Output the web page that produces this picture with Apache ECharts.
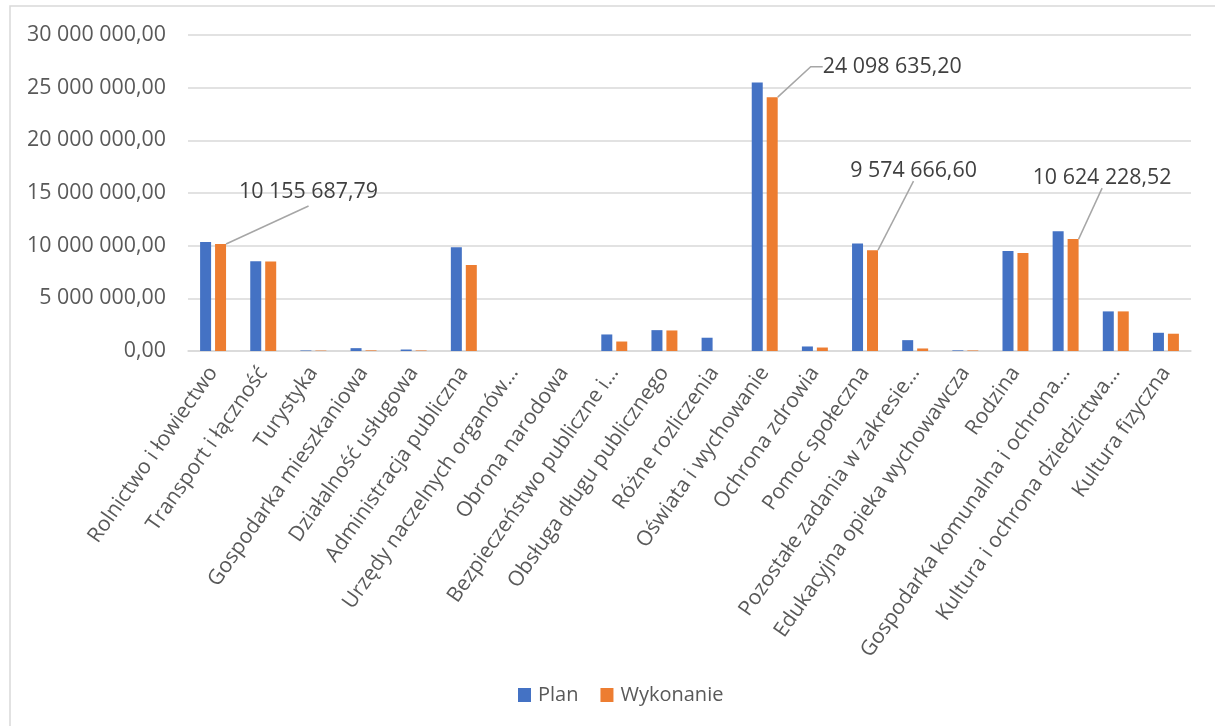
<!DOCTYPE html>
<html>
<head>
<meta charset="utf-8">
<script src="https://cdn.jsdelivr.net/npm/echarts@6/dist/echarts.min.js"></script>
<style>
	html, body { margin: 0; padding: 0; background: #fff; }
	#chart { width: 1215px; height: 726px; }
</style>
</head>
<body>
<div id="chart"></div>
<script type="text/javascript">
    // kategorie (działy)
    var categories = [
        'Rolnictwo i łowiectwo', 'Transport i łączność', 'Turystyka', 'Gospodarka mieszkaniowa',
        'Działalność usługowa', 'Administracja publiczna', 'Urzędy naczelnych organów…', 'Obrona narodowa',
        'Bezpieczeństwo publiczne i…', 'Obsługa długu publicznego', 'Różne rozliczenia', 'Oświata i wychowanie',
        'Ochrona zdrowia', 'Pomoc społeczna', 'Pozostałe zadania w zakresie…', 'Edukacyjna opieka wychowawcza',
        'Rodzina', 'Gospodarka komunalna i ochrona…', 'Kultura i ochrona dziedzictwa…', 'Kultura fizyczna'
    ];
    var plan = [
        10350000, 8520000, 50000, 270000, 140000, 9860000, 0, 0, 1570000, 1980000,
        1260000, 25500000, 430000, 10200000, 1030000, 60000, 9500000, 11380000, 3760000, 1730000
    ];
    var wykonanie = [
        10155687.79, 8500000, 40000, 60000, 50000, 8170000, 0, 0, 900000, 1950000,
        0, 24098635.20, 330000, 9574666.60, 240000, 50000, 9310000, 10624228.52, 3760000, 1640000
    ];
    // etykiety danych tylko dla wybranych słupków wykonania
    var labelled = [0, 11, 13, 17];
    var labelShift = { 0: [88, -33], 11: [120, -15], 13: [41, -64], 17: [29, -46] };

    var yTicks = { min: 0, max: 30000000, interval: 5000000 };

    function fmt(v) {
        var s = Number(v).toFixed(2).split('.');
        return s[0].replace(/\B(?=(\d{3})+(?!\d))/g, ' ') + ',' + s[1];
    }

    var font = '"Open Sans", "Noto Sans", sans-serif';
    var myChart = echarts.init(document.getElementById('chart'));

    function dataLabel(i) {
        var lab = {
            show: true, position: 'top', distance: 5,
            color: '#404040', fontSize: 21.4, fontFamily: font,
            formatter: function (p) { return fmt(p.value); }
        };
        // pierwsza etykieta: linia do środka dolnej krawędzi
        if (i === 0) {
            lab.padding = [110, 0, 4, 0];
            lab.backgroundColor = 'rgba(255,255,255,0)';
        }
        return lab;
    }

    var option = {
        animation: false,
        textStyle: { fontFamily: font },
        graphic: [{
            type: 'rect',
            shape: { x: 10, y: 6, width: 1230, height: 740 },
            style: { fill: 'none', stroke: '#d9d9d9', lineWidth: 1.5 },
            silent: true
        }],
        grid: { left: 188, right: 24, top: 35, bottom: 375 },
        legend: {
            data: ['Plan', 'Wykonanie'],
            left: 513, top: 680,
            itemWidth: 13, itemHeight: 14, itemGap: 22,
            icon: 'rect',
            textStyle: { color: '#595959', fontSize: 20, fontFamily: font, padding: [0, 0, 0, 2] }
        },
        xAxis: {
            type: 'category',
            data: categories,
            axisLine: { lineStyle: { color: '#d9d9d9', width: 1.5 } },
            axisTick: { show: false },
            axisLabel: {
                interval: 0, rotate: 55, margin: 18,
                color: '#595959', fontSize: 21, fontFamily: font
            }
        },
        yAxis: {
            type: 'value',
            min: yTicks.min, max: yTicks.max, interval: yTicks.interval,
            axisLine: { show: false },
            axisTick: { show: false },
            splitLine: { lineStyle: { color: '#d9d9d9', width: 1.5 } },
            axisLabel: {
                margin: 22, color: '#595959', fontSize: 21.4, fontFamily: font,
                formatter: function (v) { return fmt(v); }
            }
        },
        series: [
            {
                name: 'Plan',
                type: 'bar',
                barWidth: 11,
                barGap: '36%',
                itemStyle: { color: '#4472C4' },
                data: plan
            },
            {
                name: 'Wykonanie',
                type: 'bar',
                barWidth: 11,
                itemStyle: { color: '#ED7D31' },
                data: wykonanie.map(function (v, i) {
                    if (labelled.indexOf(i) < 0) return v;
                    return {
                        value: v,
                        label: dataLabel(i),
                        labelLine: {
                            show: true,
                            length2: i === 11 ? 12 : 0,
                            lineStyle: { color: '#a6a6a6', width: 1.5 }
                        }
                    };
                }),
                labelLayout: function (params) {
                    var sh = labelShift[params.dataIndex];
                    if (!sh) return {};
                    return { dx: sh[0], dy: sh[1] };
                }
            }
        ]
    };
    myChart.setOption(option);
</script>
</body>
</html>
